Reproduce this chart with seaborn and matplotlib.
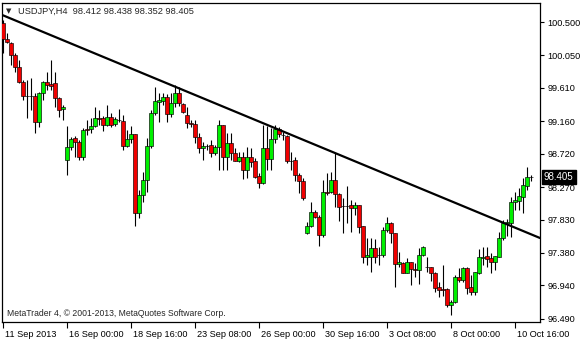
import numpy as np
import pandas as pd
import matplotlib
matplotlib.use("Agg")
import matplotlib.pyplot as plt
import matplotlib.transforms as mtransforms
import seaborn as sns

# ---------------- data ----------------
symbol_title = "USDJPY,H4  98.412 98.438 98.352 98.405"
copyright_text = "MetaTrader 4, \u00a9 2001-2013, MetaQuotes Software Corp."

opens = [100.482, 100.266, 100.220, 100.054, 99.888, 99.685, 99.500, 99.500, 99.504, 99.153,
         99.536, 99.693, 99.665, 99.671, 99.469, 99.320, 98.631, 98.806, 98.928, 98.874,
         98.671, 99.050, 99.050, 99.094, 99.198, 99.198, 99.108, 99.212, 99.121, 99.182,
         99.166, 98.828, 98.915, 98.986, 97.915, 98.162, 98.365, 98.824, 99.274, 99.423,
         99.436, 99.482, 99.256, 99.401, 99.536, 99.392, 99.243, 99.139, 99.121, 98.942,
         98.793, 98.824, 98.838, 98.725, 98.815, 99.108, 98.679, 98.860, 98.733, 98.625,
         98.679, 98.500, 98.671, 98.625, 98.419, 98.320, 98.793, 98.644, 98.915, 99.050,
         98.973, 98.959, 98.628, 98.635, 98.432, 98.355, 97.644, 97.743, 97.936, 97.860,
         97.621, 98.198, 98.198, 98.365, 98.176, 98.013, 98.013, 98.027, 97.982, 98.027,
         97.743, 97.320, 97.328, 97.442, 97.347, 97.347, 97.689, 97.787, 97.652, 97.230,
         97.239, 97.112, 97.252, 97.166, 97.149, 97.347, 97.193, 97.193, 97.112, 96.923,
         96.887, 96.887, 96.675, 96.720, 97.050, 97.013, 97.171, 96.923, 96.855, 97.104,
         97.311, 97.338, 97.311, 97.252, 97.328, 97.576, 97.779, 97.787, 98.071, 98.085,
         98.139, 98.288, 98.412]
highs = [100.527, 100.351, 100.234, 100.080, 99.986, 99.716, 99.716, 99.743, 99.536, 99.558,
         99.706, 99.828, 99.990, 99.828, 99.482, 99.378, 99.094, 98.946, 98.959, 98.905,
         99.067, 99.176, 99.203, 99.351, 99.311, 99.229, 99.378, 99.270, 99.216, 99.324,
         99.243, 99.041, 99.094, 98.990, 98.230, 98.477, 98.932, 99.311, 99.617, 99.536,
         99.545, 99.527, 99.536, 99.649, 99.626, 99.409, 99.355, 99.176, 99.176, 98.996,
         98.882, 98.851, 98.905, 98.838, 99.176, 99.115, 98.996, 98.996, 98.797, 98.747,
         98.747, 98.806, 98.793, 98.658, 98.455, 99.108, 99.094, 99.063, 99.108, 99.077,
         99.017, 98.973, 98.747, 98.679, 98.455, 98.387, 97.801, 98.071, 97.959, 97.892,
         98.365, 98.460, 98.477, 98.725, 98.192, 98.122, 98.284, 98.094, 98.071, 98.030,
         97.745, 97.576, 97.581, 97.563, 97.464, 97.733, 97.869, 97.801, 97.655, 97.396,
         97.260, 97.306, 97.260, 97.239, 97.442, 97.473, 97.320, 97.195, 97.126, 96.990,
         97.216, 96.901, 96.743, 97.081, 97.171, 97.185, 97.193, 97.081, 97.126, 97.428,
         97.455, 97.464, 97.374, 97.338, 97.662, 97.824, 97.833, 98.139, 98.207, 98.253,
         98.387, 98.544, 98.438]
lows = [100.077, 100.216, 99.919, 99.828, 99.671, 99.446, 99.203, 99.311, 99.004, 99.085,
        99.446, 99.581, 99.580, 99.355, 99.220, 99.176, 98.432, 98.770, 98.679, 98.635,
        98.635, 98.973, 99.000, 99.081, 99.108, 99.031, 99.094, 99.081, 99.094, 99.153,
        98.770, 98.810, 98.865, 97.743, 97.851, 98.071, 98.207, 98.793, 99.243, 99.153,
        99.378, 99.153, 99.220, 99.355, 99.365, 99.274, 99.063, 99.085, 98.869, 98.725,
        98.635, 98.770, 98.679, 98.702, 98.500, 98.500, 98.500, 98.635, 98.620, 98.608,
        98.374, 98.387, 98.544, 98.387, 98.253, 98.311, 98.500, 98.500, 98.860, 98.950,
        98.905, 98.598, 98.500, 98.355, 98.189, 98.094, 97.640, 97.729, 97.851, 97.473,
        97.598, 98.162, 98.185, 97.996, 97.815, 97.648, 97.787, 97.664, 97.892, 97.652,
        97.239, 97.213, 97.126, 97.239, 97.213, 97.328, 97.664, 97.509, 96.914, 97.193,
        97.104, 97.104, 96.943, 97.055, 96.966, 97.338, 97.126, 97.004, 96.855, 96.788,
        96.797, 96.652, 96.540, 96.705, 96.990, 96.990, 96.830, 96.808, 96.808, 97.094,
        97.213, 97.193, 97.104, 97.149, 97.320, 97.554, 97.608, 97.590, 97.959, 97.959,
        97.915, 98.230, 98.352]
closes = [100.266, 100.225, 100.054, 99.896, 99.693, 99.500, 99.500, 99.495, 99.153, 99.536,
          99.693, 99.649, 99.640, 99.469, 99.311, 99.355, 98.806, 98.919, 98.874, 98.671,
          99.041, 99.045, 99.094, 99.198, 99.195, 99.108, 99.212, 99.108, 99.189, 99.180,
          98.828, 98.915, 98.986, 97.915, 98.162, 98.365, 98.824, 99.266, 99.432, 99.446,
          99.482, 99.256, 99.401, 99.536, 99.401, 99.288, 99.131, 99.117, 98.942, 98.793,
          98.824, 98.820, 98.725, 98.806, 99.108, 98.679, 98.860, 98.733, 98.625, 98.679,
          98.500, 98.679, 98.612, 98.409, 98.320, 98.793, 98.644, 98.915, 99.050, 98.986,
          98.970, 98.625, 98.625, 98.432, 98.355, 98.121, 97.743, 97.936, 97.860, 97.621,
          98.198, 98.195, 98.365, 98.176, 98.004, 98.010, 98.015, 97.982, 98.027, 97.733,
          97.320, 97.351, 97.442, 97.328, 97.345, 97.689, 97.787, 97.644, 97.230, 97.252,
          97.112, 97.252, 97.158, 97.149, 97.347, 97.455, 97.190, 97.112, 96.909, 96.878,
          96.885, 96.675, 96.720, 97.050, 97.013, 97.171, 96.909, 96.855, 97.118, 97.320,
          97.328, 97.301, 97.252, 97.338, 97.576, 97.787, 97.801, 98.071, 98.094, 98.149,
          98.297, 98.409, 98.405]

price_ticks = [100.500, 100.050, 99.610, 99.160, 98.720, 98.270, 97.830, 97.380, 96.940, 96.490]
time_tick_bars = [0, 16, 32, 48, 64, 80, 96, 112, 128]
time_tick_labels = ["11 Sep 2013", "16 Sep 00:00", "18 Sep 16:00", "23 Sep 08:00",
                    "26 Sep 00:00", "30 Sep 16:00", "3 Oct 08:00", "8 Oct 00:00", "10 Oct 16:00"]
trend_bars = [-0.25, 134.25]
trend_prices = [100.596, 97.581]
last_price = 98.405

# ---------------- style ----------------
sns.set_style("white")
plt.rcParams['font.family'] = ['Liberation Sans', 'DejaVu Sans']

W, H = 580, 340
fig = plt.figure(figsize=(W / 100, H / 100), dpi=100)
ax = fig.add_axes([2 / W, 18 / H, 538 / W, 319 / H])
ax.set_facecolor("white")

df = pd.DataFrame({"open": opens, "high": highs, "low": lows, "close": closes})
df["bar"] = np.arange(len(df))
bull = df["close"] >= df["open"]
colors = np.where(bull, "#00F000", "#F00000")
bottoms = np.minimum(df["open"], df["close"])
heights = (df["close"] - df["open"]).abs()

ax.vlines(df["bar"], df["low"], df["high"], color="black", linewidth=0.8, zorder=2)
ax.bar(df["bar"], heights, bottom=bottoms, width=0.8, color=colors,
       edgecolor="black", linewidth=0.45, zorder=3)

sns.lineplot(x=trend_bars, y=trend_prices, color="black", linewidth=1.6, ax=ax,
             zorder=4, legend=False)

ax.set_xlim(-0.25, 134.25)
ax.set_ylim(96.446, 100.757)

# right price axis
ax.yaxis.tick_right()
ax.set_yticks(price_ticks)
ax.set_yticklabels([f"{p:.3f}" for p in price_ticks])
ax.tick_params(axis="y", direction="out", length=3, width=0.8, pad=2.5,
               labelsize=6.6, colors="black", right=True, left=False)

# time axis
ax.set_xticks(time_tick_bars)
ax.set_xticklabels(time_tick_labels)
ax.tick_params(axis="x", direction="out", length=4, width=0.8, pad=1.5,
               labelsize=6.6, colors="black", bottom=True)
offset = mtransforms.ScaledTranslation(2 / 100, 0, fig.dpi_scale_trans)
for lbl in ax.get_xticklabels():
    lbl.set_horizontalalignment("left")
    lbl.set_transform(lbl.get_transform() + offset)

ax.set_xlabel("")
ax.set_ylabel("")
for s in ax.spines.values():
    s.set_visible(True)
    s.set_color("black")
    s.set_linewidth(0.9)

# current price box
trans = mtransforms.blended_transform_factory(ax.transAxes, ax.transData)
ax.text(1.0 + 4 / 538, last_price, f"{last_price:.3f}", transform=trans,
        color="white", fontsize=7, va="center", ha="left",
        bbox=dict(boxstyle="square,pad=0.2", fc="black", ec="black"),
        clip_on=False, zorder=6)

# header & copyright
fig.text(6 / W, 1 - 11 / H, "\u25bc", fontsize=5, va="center", ha="left",
         family=["DejaVu Sans"])
fig.text(18 / W, 1 - 11 / H, symbol_title, fontsize=6.7, va="center", ha="left")
fig.text(7 / W, 1 - 313 / H, copyright_text, fontsize=6.2, va="center", ha="left")

fig.savefig("out.png", dpi=100)
